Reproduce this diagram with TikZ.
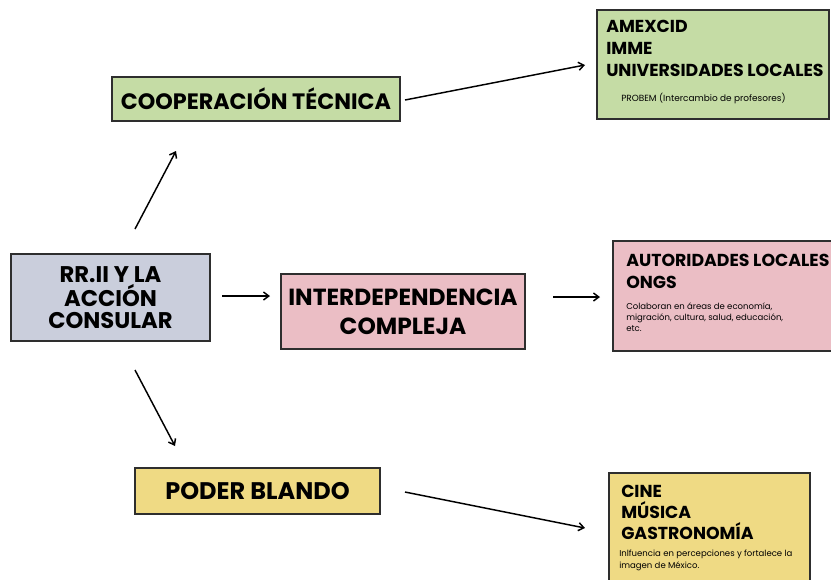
\documentclass[tikz,border=0pt]{standalone}
\usepackage{fontspec}
\setmainfont{Poppins}
\usetikzlibrary{arrows.meta}
\definecolor{cgreen}{HTML}{C5DCA5}
\definecolor{cgray}{HTML}{CACEDC}
\definecolor{cpink}{HTML}{EBBEC5}
\definecolor{cyellow}{HTML}{EFDA84}
\definecolor{cborder}{HTML}{2E2E2E}
\begin{document}
\begin{tikzpicture}[x=0.75pt,y=-0.75pt,
  box/.style={draw=cborder,line width=1.1pt,inner sep=0pt,align=center},
  mainlbl/.style={font=\bfseries\fontsize{17}{16.6}\selectfont},
  biglbl/.style={anchor=base west,inner sep=0pt,font=\bfseries\fontsize{13}{14}\selectfont},
  smalllbl/.style={anchor=base west,inner sep=0pt,font=\fontsize{6.4}{7}\selectfont},
  arr/.style={-{Straight Barb[length=4pt,width=6pt]},line width=1.1pt,black}]
\useasboundingbox (0,0) rectangle (831,579);
% central boxes
\node[box,fill=cgreen,minimum width={288*0.75pt},minimum height={44*0.75pt},font=\bfseries\fontsize{16.7}{17}\selectfont] (coop) at (256,99) {COOPERACIÓN TÉCNICA};
\node[box,mainlbl,fill=cgray,minimum width={199*0.75pt},minimum height={87*0.75pt}] (rr) at (110.5,297.5) {RR.II Y LA\\ACCIÓN\\CONSULAR};
\node[box,fill=cpink,minimum width={244*0.75pt},minimum height={75*0.75pt},font=\bfseries\fontsize{17.5}{21.5}\selectfont] (inter) at (403,311.5) {INTERDEPENDENCIA\\COMPLEJA};
\node[box,fill=cyellow,minimum width={245*0.75pt},minimum height={46*0.75pt},font=\bfseries\fontsize{18}{19}\selectfont] (poder) at (257.5,491) {PODER BLANDO};
% right boxes
\node[box,fill=cgreen,minimum width={232*0.75pt},minimum height={109*0.75pt}] (gbox) at (713,64.5) {};
\node[box,fill=cpink,minimum width={222*0.75pt},minimum height={110*0.75pt}] (pbox) at (724,296) {};
\node[box,fill=cyellow,minimum width={201*0.75pt},minimum height={112*0.75pt}] (ybox) at (709.5,529) {};
% green texts
\node[biglbl] (g1) at (606,32) {AMEXCID};
\node[biglbl] (g2) at (606,54) {IMME};
\node[biglbl] (g3) at (606,76) {UNIVERSIDADES LOCALES};
\node[smalllbl,font=\fontsize{6.7}{7}\selectfont] (g4) at (621,101) {PROBEM (Intercambio de profesores)};
% pink texts
\node[biglbl] (p1) at (626,266) {AUTORIDADES LOCALES};
\node[biglbl] (p2) at (626,288) {ONGS};
\node[smalllbl] (p3) at (626,309) {Colaboran en áreas de economía,};
\node[smalllbl] (p4) at (626,320.5) {migración, cultura, salud, educación,};
\node[smalllbl] (p5) at (626,331) {etc.};
% yellow texts
\node[biglbl] (y1) at (621,497) {CINE};
\node[biglbl] (y2) at (621,518) {MÚSICA};
\node[biglbl] (y3) at (621,539) {GASTRONOMÍA};
\node[smalllbl] (y4) at (619,556) {Inlfuencia en percepciones y fortalece la};
\node[smalllbl] (y5) at (619,568) {imagen de México.};
% arrow end points
\coordinate (a1s) at (135,229); \coordinate (a1e) at (176,151);
\coordinate (a2s) at (222,296); \coordinate (a2e) at (270,296);
\coordinate (a3s) at (135,370); \coordinate (a3e) at (175,446);
\coordinate (a4s) at (405,100); \coordinate (a4e) at (585,65);
\coordinate (a5s) at (553,297); \coordinate (a5e) at (600,297);
\coordinate (a6s) at (405,492); \coordinate (a6e) at (585,528);
\draw[arr] (a1s) -- (a1e);
\draw[arr] (a2s) -- (a2e);
\draw[arr] (a3s) -- (a3e);
\draw[arr] (a4s) -- (a4e);
\draw[arr] (a5s) -- (a5e);
\draw[arr] (a6s) -- (a6e);
\end{tikzpicture}
\end{document}
